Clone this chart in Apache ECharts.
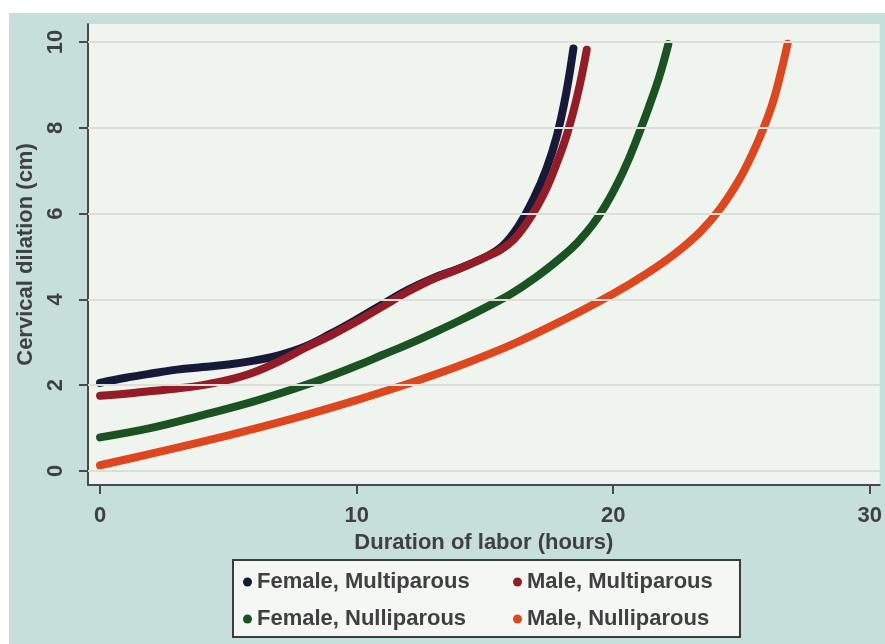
<!DOCTYPE html>
<html>
<head>
<meta charset="utf-8">
<script src="https://cdn.jsdelivr.net/npm/echarts@6/dist/echarts.min.js"></script>
<style>
html,body{margin:0;padding:0;background:#ffffff;}
#chart{width:885px;height:644px;}
</style>
</head>
<body>
<div id="chart"></div>
<script>
// ---- data ----
const seriesNames = ['Female, Multiparous', 'Male, Multiparous', 'Female, Nulliparous', 'Male, Nulliparous'];
const xTicks = [0, 10, 20, 30];
const yTicks = [0, 2, 4, 6, 8, 10];

const femMultiX = [0, 1, 2, 3, 4, 5, 6, 7, 8, 9, 10, 11, 12, 13, 14, 15, 15.7, 16.3, 16.9, 17.4, 17.8, 18.15, 18.45];
const femMultiY = [2.05, 2.17, 2.27, 2.36, 2.42, 2.48, 2.57, 2.7, 2.9, 3.2, 3.53, 3.88, 4.22, 4.5, 4.72, 4.98, 5.25, 5.7, 6.35, 7.05, 7.8, 8.75, 9.85];

const maleMultiX = [0, 1, 2, 3, 4, 5, 6, 7, 8, 9, 10, 11, 12, 13, 14, 15, 15.6, 16.1, 16.6, 17.05, 17.45, 17.85, 18.2, 18.5, 18.75, 18.97];
const maleMultiY = [1.75, 1.8, 1.86, 1.92, 2.0, 2.12, 2.3, 2.56, 2.87, 3.16, 3.48, 3.83, 4.18, 4.48, 4.71, 4.98, 5.15, 5.38, 5.75, 6.18, 6.65, 7.25, 7.85, 8.5, 9.15, 9.82];

const femNulliX = [0, 2, 4, 6, 8, 10, 11, 12, 13, 14, 15, 16, 17, 18, 18.6, 19.2, 19.7, 20.2, 20.6, 21.0, 21.4, 21.8, 22.15];
const femNulliY = [0.78, 1.0, 1.3, 1.62, 2.0, 2.45, 2.7, 2.95, 3.22, 3.5, 3.8, 4.12, 4.52, 4.99, 5.32, 5.74, 6.19, 6.74, 7.26, 7.86, 8.5, 9.2, 9.95];

const maleNulliX = [0, 2, 4, 6, 8, 10, 12, 14, 16, 18, 20, 21.3, 22.4, 23.4, 24.2, 24.9, 25.4, 25.85, 26.2, 26.5, 26.8];
const maleNulliY = [0.13, 0.4, 0.68, 0.98, 1.3, 1.65, 2.03, 2.45, 2.93, 3.5, 4.13, 4.6, 5.06, 5.58, 6.14, 6.78, 7.36, 7.98, 8.55, 9.2, 9.96];

const colors = ['#161a38', '#931c26', '#1b5221', '#de461d'];
// ---- build ----
function pairs(xs, ys) { return xs.map((x, i) => [x, ys[i]]); }
const curves = [
  pairs(femMultiX, femMultiY),
  pairs(maleMultiX, maleMultiY),
  pairs(femNulliX, femNulliY),
  pairs(maleNulliX, maleNulliY)
];

const FONT = "'Liberation Sans', Arial, sans-serif";
const TXT = '#404040';

const series = [{
  type: 'line', name: 'grid', data: [], z: 1, silent: true,
  markLine: {
    silent: true, symbol: 'none', animation: false,
    label: { show: false },
    lineStyle: { color: '#dcded7', width: 2, type: 'solid' },
    data: yTicks.map(v => ({ yAxis: v }))
  }
}];
curves.forEach((d, i) => {
  series.push({
    type: 'line', name: seriesNames[i], data: d, smooth: 0.4,
    showSymbol: false, symbol: 'circle', symbolSize: 8, z: 3,
    color: colors[i],
    lineStyle: { width: 8, color: colors[i], cap: 'round', join: 'round' },
    animation: false
  });
});

const legendCommon = {
  orient: 'vertical', icon: 'circle', itemWidth: 9, itemHeight: 9, itemGap: 11,
  selectedMode: false,
  textStyle: { fontFamily: FONT, fontSize: 22, fontWeight: 'bold', color: TXT, width: 222, lineHeight: 26 }
};

const option = {
  backgroundColor: '#c6dfdb',
  animation: false,
  textStyle: { fontFamily: FONT },
  graphic: [
    { type: 'rect', z: -10, silent: true, shape: { x: 0, y: 0, width: 885, height: 13 }, style: { fill: '#ffffff' } },
    { type: 'rect', z: -10, silent: true, shape: { x: 0, y: 0, width: 9, height: 644 }, style: { fill: '#ffffff' } }
  ],
  grid: {
    left: 88, right: 5, top: 24, bottom: 159,
    show: true, backgroundColor: '#f0f4ef', borderWidth: 0
  },
  xAxis: {
    type: 'value', min: -0.47, max: 30.39,
    name: 'Duration of labor (hours)', nameLocation: 'middle', nameGap: 44,
    nameTextStyle: { fontFamily: FONT, fontSize: 22, fontWeight: 'bold', color: TXT },
    axisLine: { show: true, onZero: false, lineStyle: { color: '#4a4a4a', width: 2 } },
    axisTick: { show: true, length: 9, customValues: xTicks, lineStyle: { color: '#4a4a4a', width: 2 } },
    axisLabel: { customValues: xTicks, margin: 20, fontFamily: FONT, fontSize: 22, fontWeight: 'bold', color: TXT, showMinLabel: true, showMaxLabel: true },
    splitLine: { show: false }
  },
  yAxis: {
    type: 'value', min: -0.33, max: 10.42,
    name: 'Cervical dilation (cm)', nameLocation: 'middle', nameGap: 40, nameRotate: 90,
    nameTextStyle: { fontFamily: FONT, fontSize: 22, fontWeight: 'bold', color: TXT },
    axisLine: { show: true, onZero: false, lineStyle: { color: '#4a4a4a', width: 2 } },
    axisTick: { show: true, length: 9, customValues: yTicks, lineStyle: { color: '#4a4a4a', width: 2 } },
    axisLabel: { customValues: yTicks, rotate: 90, margin: 21, fontFamily: FONT, fontSize: 22, fontWeight: 'bold', color: TXT, showMinLabel: true, showMaxLabel: true },
    splitLine: { show: false }
  },
  legend: [
    Object.assign({}, legendCommon, {
      data: [seriesNames[0], seriesNames[2]],
      left: 233, top: 560, padding: [9, 261, 5, 10],
      backgroundColor: '#f4f7f4', borderColor: '#3c3c3c', borderWidth: 2, z: 4
    }),
    Object.assign({}, legendCommon, {
      data: [seriesNames[1], seriesNames[3]],
      left: 513, top: 569, padding: 0, z: 6
    })
  ],
  series: series
};

const chart = echarts.init(document.getElementById('chart'), null, { renderer: 'canvas' });
chart.setOption(option);
</script>
</body>
</html>
